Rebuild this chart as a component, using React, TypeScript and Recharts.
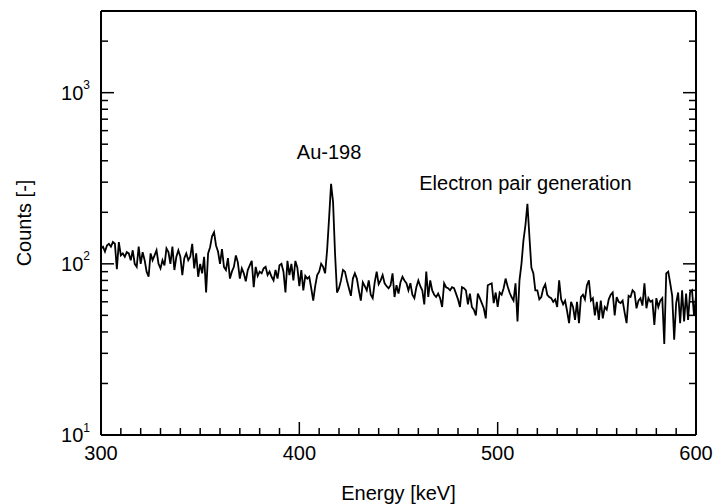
import { LineChart, Line, XAxis, YAxis, ReferenceDot } from "recharts";

const FONT = "'Liberation Sans', Arial, sans-serif";
const START_KEV = 300;

// counts per 1 keV channel
const counts300 = [
	123, 126, 118, 128, 131, 126, 134, 131, 93, 134,
	112, 115, 110, 117, 115, 105, 120, 100, 96, 126,
	100, 117, 105, 90, 84, 115, 105, 112, 120, 100,
	94, 105, 98, 123, 117, 100, 126, 92, 110, 120,
	110, 86, 108, 115, 105, 110, 131, 94, 115, 84,
];
const counts350 = [
	100, 88, 110, 68, 115, 125, 145, 153, 128, 118,
	100, 122, 96, 92, 108, 82, 90, 96, 112, 102,
	82, 94, 88, 79, 92, 98, 104, 73, 96, 85,
	90, 88, 94, 96, 86, 90, 84, 80, 92, 82,
	98, 100, 90, 68, 104, 86, 100, 80, 104, 95,
];
const counts400 = [
	74, 92, 70, 85, 82, 84, 72, 61, 74, 86,
	90, 100, 96, 88, 120, 185, 293, 230, 115, 68,
	72, 80, 92, 90, 80, 72, 65, 82, 88, 82,
	70, 61, 78, 74, 70, 80, 66, 63, 78, 90,
	76, 80, 86, 77, 74, 72, 75, 88, 64, 75,
];
const counts450 = [
	67, 78, 84, 80, 77, 70, 77, 66, 63, 73,
	80, 74, 70, 58, 90, 64, 80, 70, 66, 64,
	67, 63, 56, 77, 73, 72, 70, 73, 72, 67,
	62, 56, 73, 72, 70, 58, 67, 56, 54, 50,
	67, 63, 59, 55, 48, 75, 76, 77, 59, 68,
];
const counts500 = [
	56, 68, 66, 72, 82, 74, 68, 64, 61, 77,
	46, 80, 100, 137, 168, 224, 145, 95, 88, 70,
	70, 62, 64, 72, 76, 66, 64, 63, 60, 62,
	56, 80, 62, 58, 61, 53, 45, 60, 56, 47,
	60, 45, 64, 66, 62, 75, 80, 61, 63, 50,
];
const counts550 = [
	60, 47, 61, 48, 56, 54, 62, 66, 68, 50,
	64, 60, 59, 61, 52, 45, 65, 64, 70, 68,
	55, 61, 63, 57, 77, 55, 63, 60, 61, 44,
	63, 56, 61, 63, 34, 88, 90, 77, 65, 36,
	59, 68, 45, 70, 46, 67, 47, 68, 70, 50,
	65,
];

const xTicks = [
	300, 310, 320, 330, 340, 350, 360, 370, 380, 390,
	400, 410, 420, 430, 440, 450, 460, 470, 480, 490,
	500, 510, 520, 530, 540, 550, 560, 570, 580, 590, 600,
];
const xMajor = [300, 400, 500, 600];
const yTicks = [
	10, 20, 30, 40, 50, 60, 70, 80, 90,
	100, 200, 300, 400, 500, 600, 700, 800, 900,
	1000, 2000,
];
const yMajor = [10, 100, 1000];

const notes = [
	{ label: "Au-198", energy: 415, counts: 410 },
	{ label: "Electron pair generation", energy: 514, counts: 271 },
];

const data = [...counts300, ...counts350, ...counts400, ...counts450, ...counts500, ...counts550].map(
	(c, i) => ({ energy: START_KEV + i, counts: c }),
);

function XTick(props: any) {
	const { x, y, payload } = props;
	const major = xMajor.includes(payload.value);
	return (
		<g>
			<line x1={x} y1={y} x2={x} y2={y - (major ? 13 : 7)} stroke="#000" strokeWidth={1.5} />
			{major && (
				<text x={x} y={y + 25} textAnchor="middle" fontSize={20} fontFamily={FONT} fill="#000">
					{payload.value}
				</text>
			)}
		</g>
	);
}

function YTick(props: any) {
	const { x, y, payload, side } = props;
	const major = yMajor.includes(payload.value);
	const dir = side === "left" ? 1 : -1;
	return (
		<g>
			<line x1={x} y1={y} x2={x + dir * (major ? 13 : 7)} y2={y} stroke="#000" strokeWidth={1.5} />
			{side === "left" && major && (
				<text x={x - 11} y={y + 7} textAnchor="end" fontSize={20} fontFamily={FONT} fill="#000">
					10
					<tspan dy={-10.5} fontSize={12}>
						{Math.round(Math.log10(payload.value))}
					</tspan>
				</text>
			)}
		</g>
	);
}

export default function App() {
	return (
		<div style={{ position: "absolute", left: 0, top: 0, background: "#fff" }}>
			<LineChart width={713} height={504} data={data} margin={{ top: 0, right: 0, bottom: 0, left: 0 }}>
				<XAxis
					dataKey="energy"
					type="number"
					domain={[300, 600]}
					ticks={xTicks}
					interval={0}
					height={69}
					tickSize={0}
					tickMargin={0}
					tickLine={false}
					axisLine={{ stroke: "#000", strokeWidth: 2 }}
					tick={(p: any) => <XTick {...p} />}
					label={(p: any) => {
						const vb = p.viewBox;
						return (
							<text
								x={vb.x + vb.width / 2}
								y={vb.y + 65}
								textAnchor="middle"
								fontSize={20}
								fontFamily={FONT}
								fill="#000"
							>
								Energy [keV]
							</text>
						);
					}}
				/>
				<XAxis
					xAxisId="top"
					orientation="top"
					dataKey="energy"
					type="number"
					domain={[300, 600]}
					height={11}
					tick={false}
					tickLine={false}
					axisLine={{ stroke: "#000", strokeWidth: 2 }}
				/>
				<YAxis
					scale="log"
					type="number"
					domain={[10, 3000]}
					allowDataOverflow
					ticks={yTicks}
					interval={0}
					width={101}
					tickSize={0}
					tickMargin={0}
					tickLine={false}
					axisLine={{ stroke: "#000", strokeWidth: 2 }}
					tick={(p: any) => <YTick {...p} side="left" />}
					label={(p: any) => {
						const vb = p.viewBox;
						const cy = vb.y + vb.height / 2;
						return (
							<text
								x={31}
								y={cy}
								transform={`rotate(-90, 31, ${cy})`}
								textAnchor="middle"
								fontSize={20}
								fontFamily={FONT}
								fill="#000"
							>
								Counts [-]
							</text>
						);
					}}
				/>
				<YAxis
					yAxisId="right"
					orientation="right"
					scale="log"
					type="number"
					domain={[10, 3000]}
					allowDataOverflow
					ticks={yTicks}
					interval={0}
					width={17}
					tickSize={0}
					tickMargin={0}
					tickLine={false}
					axisLine={{ stroke: "#000", strokeWidth: 2 }}
					tick={(p: any) => <YTick {...p} side="right" />}
				/>
				<Line
					dataKey="counts"
					type="linear"
					stroke="#000"
					strokeWidth={1.8}
					dot={false}
					isAnimationActive={false}
				/>
				{notes.map((n) => (
					<ReferenceDot
						key={n.label}
						x={n.energy}
						y={n.counts}
						r={0}
						shape={(p: any) => (
							<text x={p.cx} y={p.cy} textAnchor="middle" fontSize={20} fontFamily={FONT} fill="#000">
								{n.label}
							</text>
						)}
					/>
				))}
			</LineChart>
		</div>
	);
}
